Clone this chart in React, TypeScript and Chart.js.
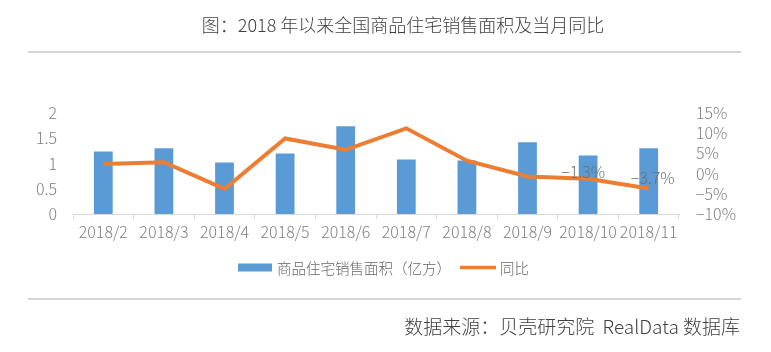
import React, { useEffect, useRef } from "react";
import { Chart, registerables } from "chart.js";

Chart.register(...registerables);

const categories = ["2018/2", "2018/3", "2018/4", "2018/5", "2018/6", "2018/7", "2018/8", "2018/9", "2018/10", "2018/11"];
const salesArea = [1.24, 1.3, 1.02, 1.2, 1.74, 1.08, 1.06, 1.42, 1.16, 1.3];
const yoy = [2.4, 2.8, -3.8, 8.7, 5.9, 11.2, 3.2, -0.7, -1.3, -3.7];
const labeledPoints = [8, 9];
const labelShiftX = [-5, 4];
const labelShiftY = [-7, -11];
const titleText = "图：2018 年以来全国商品住宅销售面积及当月同比";
const sourceText = "数据来源：贝壳研究院  RealData 数据库";
const barLabel = "商品住宅销售面积（亿方）";
const lineLabel = "同比";

const FONT = '"Noto Sans CJK SC", "Noto Sans", sans-serif';
const BLUE = "#5B9BD5";
const ORANGE = "#ED7D31";
const GRAY = "#808080";

const decorPlugin = {
  id: "decor",
  afterDraw(chart: any) {
    const ctx = chart.ctx;
    ctx.save();
    // title
    ctx.fillStyle = "#404040";
    ctx.font = `300 18px ${FONT}`;
    ctx.textAlign = "center";
    ctx.textBaseline = "middle";
    ctx.fillText(titleText, 403, 25);
    // separators
    ctx.strokeStyle = "#c8c8c8";
    ctx.lineWidth = 1.5;
    ctx.beginPath();
    ctx.moveTo(28, 52);
    ctx.lineTo(741, 52);
    ctx.moveTo(28, 299);
    ctx.lineTo(741, 299);
    ctx.stroke();
    // source
    ctx.fillStyle = "#404040";
    ctx.font = `300 19px ${FONT}`;
    ctx.textAlign = "right";
    ctx.fillText(sourceText, 740, 327);
    // legend
    ctx.fillStyle = BLUE;
    ctx.fillRect(238, 263.5, 34, 8);
    ctx.fillStyle = "#666666";
    ctx.font = `300 14.5px ${FONT}`;
    ctx.textAlign = "left";
    ctx.fillText(barLabel, 277, 268);
    ctx.strokeStyle = ORANGE;
    ctx.lineWidth = 3.5;
    ctx.beginPath();
    ctx.moveTo(460, 267.5);
    ctx.lineTo(496, 267.5);
    ctx.stroke();
    ctx.fillText(lineLabel, 500, 268);
    // data labels
    const meta = chart.getDatasetMeta(1);
    ctx.fillStyle = "#6f6f6f";
    ctx.font = `300 16px ${FONT}`;
    ctx.textAlign = "center";
    labeledPoints.forEach((i, k) => {
      const pt = meta.data[i];
      const v = yoy[i];
      const txt = (v < 0 ? "\u2212" : "") + Math.abs(v).toFixed(1) + "%";
      ctx.fillText(txt, pt.x + labelShiftX[k], pt.y + labelShiftY[k]);
    });
    ctx.restore();
  },
};

export default function App() {
  const ref = useRef<HTMLCanvasElement>(null);
  useEffect(() => {
    if (!ref.current) return;
    const tickFont = { family: FONT, size: 16, weight: 300 as any };
    const chart = new Chart(ref.current, {
      type: "bar",
      data: {
        labels: categories,
        datasets: [
          {
            type: "bar",
            label: barLabel,
            data: salesArea,
            backgroundColor: BLUE,
            yAxisID: "y",
            categoryPercentage: 0.31,
            barPercentage: 1,
            order: 2,
          },
          {
            type: "line",
            label: lineLabel,
            data: yoy,
            borderColor: ORANGE,
            backgroundColor: ORANGE,
            borderWidth: 4,
            pointRadius: 0,
            tension: 0,
            yAxisID: "y1",
            order: 1,
          } as any,
        ],
      },
      options: {
        responsive: false,
        animation: false,
        layout: { padding: { top: 113, left: 0, right: 0, bottom: 0 } },
        plugins: { legend: { display: false }, tooltip: { enabled: false }, title: { display: false } },
        scales: {
          x: {
            offset: true,
            grid: { display: true, offset: true, drawOnChartArea: false, drawTicks: true, tickLength: 5, color: "#d9d9d9" },
            border: { display: true, color: "#d9d9d9", width: 1 },
            ticks: { color: GRAY, font: tickFont, padding: 3, maxRotation: 0, autoSkip: false },
            afterFit: (s: any) => {
              s.height = 138;
            },
          },
          y: {
            position: "left",
            min: 0,
            max: 2,
            grid: { display: false },
            border: { display: false },
            ticks: {
              stepSize: 0.5,
              autoSkip: false,
              color: GRAY,
              font: tickFont,
              padding: 8,
              callback: (v: any) => String(Number(v)),
            },
            afterFit: (s: any) => {
              s.width = 73;
            },
          },
          y1: {
            position: "right",
            min: -10,
            max: 15,
            grid: { display: false },
            border: { display: false },
            ticks: {
              stepSize: 5,
              autoSkip: false,
              color: GRAY,
              font: tickFont,
              padding: 9,
              callback: (v: any) => (Number(v) < 0 ? "\u2212" + Math.abs(Number(v)) : String(v)) + "%",
            },
            afterFit: (s: any) => {
              s.width = 92;
            },
          },
        },
      },
      plugins: [decorPlugin],
    });
    return () => chart.destroy();
  }, []);
  return (
    <div style={{ position: "absolute", left: 0, top: 0, width: 771, height: 352, background: "#fff" }}>
      <canvas ref={ref} width={771} height={352} style={{ width: 771, height: 352, display: "block" }} />
    </div>
  );
}
